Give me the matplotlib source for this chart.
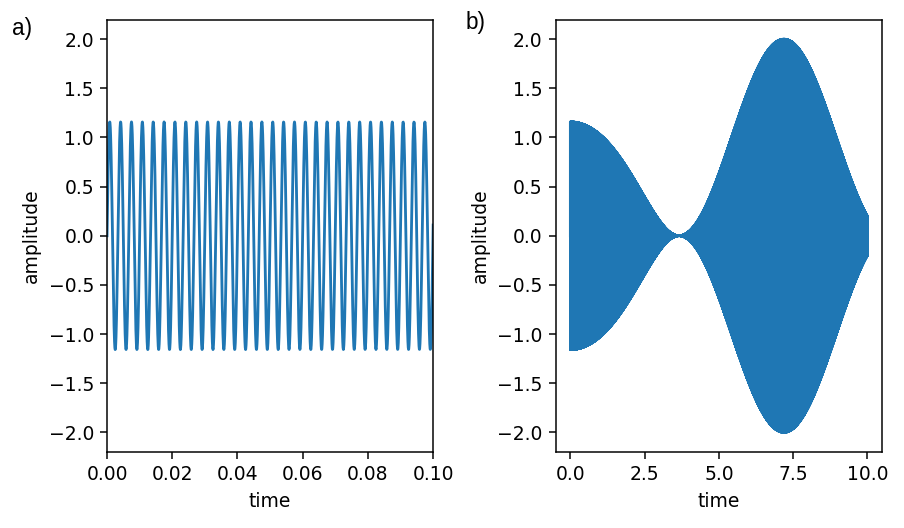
import numpy as np
import matplotlib.pyplot as plt

# Signal parameters
carrier_hz = 300.0        # about 30 cycles in the first 0.1 s
duration = 10.0           # seconds shown in panel b)
n_samples = 200001
env_phase0 = 0.706        # envelope 2*cos^2(phase), ~1.15 at t = 0
env_rate = 0.445          # envelope phase speed (rad/s) once settled
env_ramp = 0.1297         # envelope phase acceleration at the start (rad/s^2)
zoom_xlim = (0.0, 0.1)

panel_labels = ['a)', 'b)']
xlabel = 'time'
ylabel = 'amplitude'

# Build the waveform
t = np.linspace(0, duration, n_samples)
t_settle = env_rate / env_ramp
phase = np.where(t < t_settle,
                 env_phase0 + 0.5 * env_ramp * t**2,
                 env_phase0 + 0.5 * env_ramp * t_settle**2 + env_rate * (t - t_settle))
envelope = 2 * np.cos(phase)**2
signal = envelope * np.sin(2 * np.pi * carrier_hz * t)

fig = plt.figure(figsize=(904 / 135, 528 / 135), dpi=135)
ax1 = fig.add_axes([0.1184, 0.144, 0.3606, 0.819])
ax2 = fig.add_axes([0.6145, 0.144, 0.3615, 0.819])

# a) zoom on the first 0.1 s
ax1.plot(t, signal)
ax1.set_xlim(*zoom_xlim)
ax1.set_xlabel(xlabel)
ax1.set_ylabel(ylabel)

# b) whole record
ax2.plot(t, signal)
ax2.set_xlabel(xlabel)
ax2.set_ylabel(ylabel)

fig.text(22 / 904, 1 - 29 / 528, panel_labels[0], family='Liberation Sans',
         fontsize=12, ha='center', va='center')
fig.text(476 / 904, 1 - 22 / 528, panel_labels[1], family='Liberation Sans',
         fontsize=12, ha='center', va='center')

fig.savefig('out.png', dpi=135)
